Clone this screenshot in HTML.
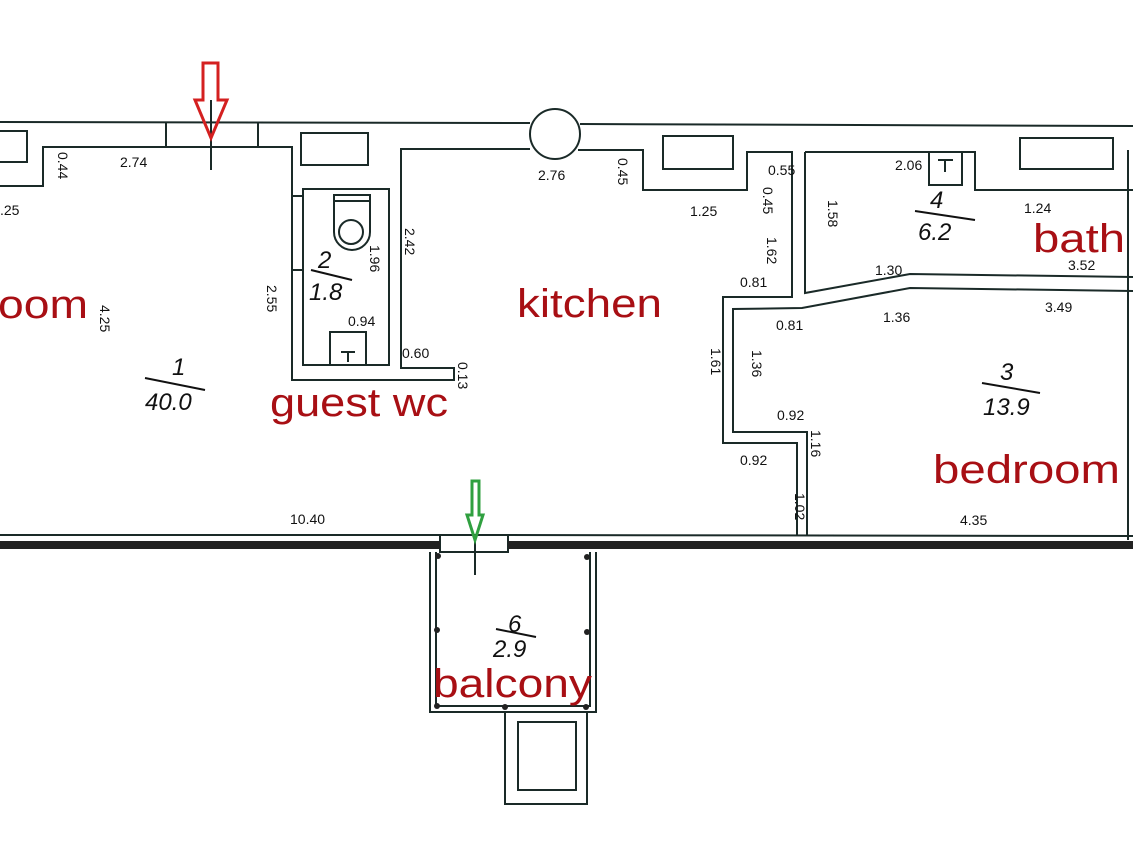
<!DOCTYPE html>
<html><head><meta charset="utf-8"><style>
html,body{margin:0;padding:0;background:#fff;}
svg{display:block}
.d{font-family:"Liberation Sans",sans-serif;font-size:14px;fill:#111}
.r{font-family:"Liberation Sans",sans-serif;font-size:40px;fill:#a80f14}
.n{font-family:"Liberation Sans",sans-serif;font-style:italic;font-size:24px;fill:#111}
</style></head><body>
<svg width="1133" height="851" viewBox="0 0 1133 851" xmlns="http://www.w3.org/2000/svg">
<g fill="none" stroke="#1a2a28" stroke-width="2">
<line x1="0" y1="122" x2="530" y2="123"/>
<line x1="580" y1="124" x2="1133" y2="126"/>
<circle cx="555" cy="134" r="25" fill="#fff"/>
<rect x="-5" y="131" width="32" height="31"/>
<polyline points="0,186 43,186 43,147 292,147 292,380 454,380 454,368 401,368 401,149 530,149"/>
<line x1="166" y1="122" x2="166" y2="147"/>
<line x1="258" y1="122" x2="258" y2="147"/>
<line x1="211" y1="100" x2="211" y2="170"/>
<rect x="301" y="133" width="67" height="32"/>
<rect x="303" y="189" width="86" height="176"/>
<line x1="292" y1="196" x2="303" y2="196"/>
<line x1="292" y1="270" x2="303" y2="270"/>
<path d="M334,195 L370,195 L370,232 A18,18 0 0 1 334,232 Z"/>
<line x1="334" y1="201" x2="370" y2="201"/>
<circle cx="351" cy="232" r="12"/>
<rect x="330" y="332" width="36" height="33"/>
<line x1="341" y1="352" x2="355" y2="352"/><line x1="348" y1="352" x2="348" y2="362"/>
<polyline points="578,150 643,150 643,190 747,190 747,152 792,152 792,297 723,297 723,443 797,443 797,535"/>
<rect x="663" y="136" width="70" height="33"/>
<polyline points="805,152 805,293 910,274 1133,277"/>
<polyline points="805,152 975,152 975,190 1133,190"/>
<rect x="929" y="152" width="33" height="33"/>
<line x1="938" y1="160" x2="953" y2="160"/><line x1="945" y1="160" x2="945" y2="172"/>
<rect x="1020" y="138" width="93" height="31"/>
<line x1="1128" y1="150" x2="1128" y2="540"/>
<polyline points="1133,291 910,288 802,308 733,309 733,432 807,432 807,535"/>
<line x1="0" y1="535" x2="440" y2="535"/>
<line x1="508" y1="535" x2="1133" y2="536"/>
<rect x="440" y="535" width="68" height="17"/>
<line x1="475" y1="540" x2="475" y2="575"/>
<polyline points="430,552 430,712 596,712 596,552"/>
<polyline points="436,552 436,706 590,706 590,552"/>
<rect x="505" y="712" width="82" height="92"/>
<rect x="518" y="722" width="58" height="68"/>
</g>
<rect x="0" y="541" width="440" height="8" fill="#222"/>
<rect x="508" y="541" width="625" height="8" fill="#222"/>
<g fill="#222"><circle cx="438" cy="556" r="3"/><circle cx="587" cy="557" r="3"/><circle cx="437" cy="630" r="3"/><circle cx="587" cy="632" r="3"/><circle cx="437" cy="706" r="3"/><circle cx="505" cy="707" r="3"/><circle cx="586" cy="707" r="3"/></g>
<path d="M203,63 L218,63 L218,100 L227,100 L211,138 L195,100 L203,100 Z" fill="none" stroke="#d42020" stroke-width="3"/>
<path d="M472,481 L479,481 L479,515 L483,515 L475,540 L467,515 L472,515 Z" fill="none" stroke="#30a040" stroke-width="3"/>
<text class="d" x="120" y="167">2.74</text>
<text class="d" x="0" y="215">.25</text>
<text class="d" x="538" y="180">2.76</text>
<text class="d" x="690" y="216">1.25</text>
<text class="d" x="768" y="175">0.55</text>
<text class="d" x="895" y="170">2.06</text>
<text class="d" x="1024" y="213">1.24</text>
<text class="d" x="875" y="275">1.30</text>
<text class="d" x="1068" y="270">3.52</text>
<text class="d" x="740" y="287">0.81</text>
<text class="d" x="776" y="330">0.81</text>
<text class="d" x="883" y="322">1.36</text>
<text class="d" x="1045" y="312">3.49</text>
<text class="d" x="348" y="326">0.94</text>
<text class="d" x="402" y="358">0.60</text>
<text class="d" x="777" y="420">0.92</text>
<text class="d" x="740" y="465">0.92</text>
<text class="d" x="290" y="524">10.40</text>
<text class="d" x="960" y="525">4.35</text>
<g class="d">
<text transform="translate(58,152) rotate(90)">0.44</text>
<text transform="translate(100,305) rotate(90)">4.25</text>
<text transform="translate(267,285) rotate(90)">2.55</text>
<text transform="translate(370,245) rotate(90)">1.96</text>
<text transform="translate(405,228) rotate(90)">2.42</text>
<text transform="translate(458,362) rotate(90)">0.13</text>
<text transform="translate(618,158) rotate(90)">0.45</text>
<text transform="translate(763,187) rotate(90)">0.45</text>
<text transform="translate(767,237) rotate(90)">1.62</text>
<text transform="translate(828,200) rotate(90)">1.58</text>
<text transform="translate(711,348) rotate(90)">1.61</text>
<text transform="translate(752,350) rotate(90)">1.36</text>
<text transform="translate(811,430) rotate(90)">1.16</text>
<text transform="translate(795,493) rotate(90)">1.02</text>
</g>
<text class="n" x="172" y="375">1</text><line x1="145" y1="378" x2="205" y2="390" stroke="#111" stroke-width="2"/><text class="n" x="145" y="410">40.0</text>
<text class="n" x="318" y="268">2</text><line x1="311" y1="270" x2="352" y2="280" stroke="#111" stroke-width="2"/><text class="n" x="309" y="300">1.8</text>
<text class="n" x="930" y="208">4</text><line x1="915" y1="211" x2="975" y2="220" stroke="#111" stroke-width="2"/><text class="n" x="918" y="240">6.2</text>
<text class="n" x="1000" y="380">3</text><line x1="982" y1="383" x2="1040" y2="393" stroke="#111" stroke-width="2"/><text class="n" x="983" y="415">13.9</text>
<text class="n" x="508" y="632">6</text><line x1="496" y1="629" x2="536" y2="637" stroke="#111" stroke-width="2"/><text class="n" x="493" y="657">2.9</text>
<text class="r" x="-2" y="318" textLength="90" lengthAdjust="spacingAndGlyphs">oom</text>
<text class="r" x="517" y="317" textLength="145" lengthAdjust="spacingAndGlyphs">kitchen</text>
<text class="r" x="270" y="416" textLength="178" lengthAdjust="spacingAndGlyphs">guest wc</text>
<text class="r" x="1033" y="252" textLength="92" lengthAdjust="spacingAndGlyphs">bath</text>
<text class="r" x="933" y="483" textLength="187" lengthAdjust="spacingAndGlyphs">bedroom</text>
<text class="r" x="433" y="697" textLength="159" lengthAdjust="spacingAndGlyphs">balcony</text>
</svg>
</body></html>
